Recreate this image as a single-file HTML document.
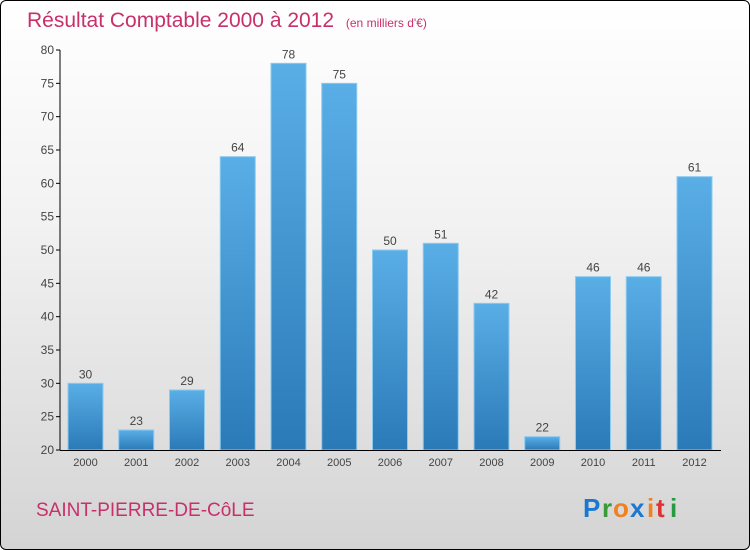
<!DOCTYPE html>
<html><head><meta charset="utf-8"><style>
body{margin:0;width:750px;height:550px;overflow:hidden;font-family:"Liberation Sans",sans-serif}
#wrap{position:absolute;left:0;top:0;width:748px;height:548px;border:1px solid #000;border-radius:6px;background:linear-gradient(#ffffff 0%,#f2f2f2 40%,#d4d4d4 100%)}
</style></head><body>
<div id="wrap">
<svg width="750" height="550" style="position:absolute;left:-1px;top:-1px">
<defs><linearGradient id="bg" x1="0" y1="0" x2="0" y2="1"><stop offset="0" stop-color="#5aaee6"/><stop offset="1" stop-color="#2a7ab8"/></linearGradient></defs>
<text x="27" y="27" font-size="21" fill="#c8306a">Résultat Comptable 2000 à 2012 <tspan font-size="12" dx="6">(en milliers d'€)</tspan></text>
<g id="plot"></g>
<text x="36" y="516" font-size="19" fill="#c8306a">SAINT-PIERRE-DE-CôLE</text>
<g font-size="26" font-weight="bold" font-family="'Liberation Sans',sans-serif">
<text x="583" y="517" fill="#1a78d0">P</text><text x="602" y="517" fill="#3a9a3a">r</text><text x="613" y="517" fill="#f08020">o</text><text x="630" y="517" fill="#1a78d0">x</text><text x="647" y="517" fill="#f08020">i</text><text x="656" y="517" fill="#e03030">t</text><text x="670" y="517" fill="#2a9a40">i</text>
</g>
</svg>
</div>
<script>
const years=["2000","2001","2002","2003","2004","2005","2006","2007","2008","2009","2010","2011","2012"];
const values=[30,23,29,64,78,75,50,51,42,22,46,46,61];
const yTicks=[20,25,30,35,40,45,50,55,60,65,70,75,80];
const NS="http://www.w3.org/2000/svg";
const g=document.getElementById('plot');
const y0=450,y1=50,vmin=20,vmax=80;
const ys=v=>y0-(v-vmin)/(vmax-vmin)*(y0-y1);
const xs=i=>85.5+i*50.75;
function mk(t,a){const e=document.createElementNS(NS,t);for(const k in a)e.setAttribute(k,a[k]);g.appendChild(e);return e;}
yTicks.forEach(v=>{
 const l=mk('line',{x1:56,x2:60,y1:ys(v),y2:ys(v),stroke:'#000'});
 
 
 const t=mk('text',{x:54,y:ys(v)+4,'text-anchor':'end','font-size':12,fill:'#444'});
 t.textContent=v;
 
 
});
values.forEach((v,i)=>{
 const r=mk('rect',{x:xs(i)-17.5,y:ys(v),width:35,height:y0-ys(v),fill:'url(#bg)',stroke:'#8ccaf0','stroke-width':1});
 
 
 const t=mk('text',{x:xs(i),y:ys(v)-5,'text-anchor':'middle','font-size':12,fill:'#444'});
 t.textContent=v;
 
 
 const x=mk('text',{x:xs(i),y:466,'text-anchor':'middle','font-size':11,fill:'#444'});
 x.textContent=years[i];
 
 
});
const ya=mk('line',{x1:60,x2:60,y1:50,y2:450,stroke:'#000'});


const xa=mk('line',{x1:60,x2:721,y1:450.5,y2:450.5,stroke:'#000'});


</script>
</body></html>
